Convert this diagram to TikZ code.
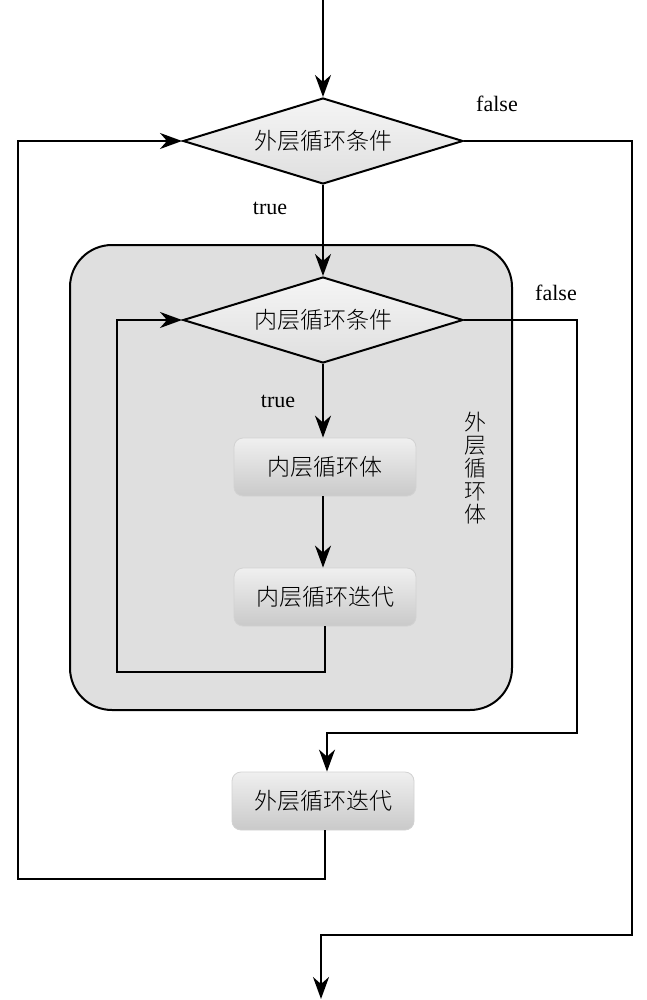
\documentclass[tikz,border=0pt]{standalone}
\usepackage{fontspec}
\setmainfont{Liberation Serif}
\newfontfamily\cjk{Noto Sans CJK SC Light}
\usetikzlibrary{shapes.geometric}
\usetikzlibrary{arrows.meta}

\begin{document}
\begin{tikzpicture}[x=1pt, y=-1pt, line width=2pt,
  arrow/.style={-{Stealth[length=22pt, width=16pt, inset=7pt]}},
  cond/.style={diamond, draw=black, line width=2pt, minimum width=280pt, minimum height=86pt,
    inner sep=0pt, aspect=3.25, top color=gray!8, bottom color=gray!25,
    font=\cjk\fontsize{23}{23}\selectfont},
  block/.style={rectangle, rounded corners=9pt, draw=gray!35, line width=0.8pt,
    minimum width=182pt, minimum height=58pt, top color=gray!12, bottom color=gray!42,
    font=\cjk\fontsize{23}{23}\selectfont},
  lbl/.style={font=\fontsize{22}{22}\selectfont, inner sep=0pt}]
\useasboundingbox (0,0) rectangle (646,1000);
% outer loop body
\node[draw=black, line width=2pt, fill=gray!25, rounded corners=42pt, minimum width=442pt, minimum height=465pt] (outerbody) at (291,477.5) {};
\node[font=\cjk\fontsize{22}{23}\selectfont, align=center] (outerbodytxt) at (475,468) {外\\层\\循\\环\\体};
% nodes
\coordinate (entry) at (323,0);
\node[cond] (outercond) at (323,141) {外层循环条件};
\node[cond] (innercond) at (323,320) {内层循环条件};
\node[block] (innerbody) at (325,467) {内层循环体};
\node[block] (inneriter) at (325,597) {内层循环迭代};
\node[block] (outeriter) at (323,801) {外层循环迭代};
\coordinate (innerloop) at (117,672);
\coordinate (innerexit) at (577,733);
\coordinate (outerloop) at (18,879);
\coordinate (outerexit) at (632,935);
\coordinate (exit) at (321,999);
% labels
\node[lbl] (outerfalse) at (497,104) {false};
\node[lbl] (outertrue) at (270,208) {true};
\node[lbl] (innerfalse) at (556,293) {false};
\node[lbl] (innertrue) at (278,401) {true};
% connectors
\draw[arrow] (entry) -- (outercond.north);
\draw[arrow] (outercond.south) -- (innercond.north);
\draw[arrow] (innercond.south) -- (innerbody.north -| innercond.south);
\draw[arrow] (innerbody.south -| innercond.south) -- (inneriter.north -| innercond.south);
\draw[arrow] (inneriter.south) |- (innerloop) |- (innercond.west);
\draw[arrow] (innercond.east) -| (innerexit) -| ([xshift=4pt]outeriter.north);
\draw[arrow] ([xshift=2pt]outeriter.south) |- (outerloop) |- (outercond.west);
\draw[arrow] (outercond.east) -| (outerexit) -| (exit);
\end{tikzpicture}
\end{document}
